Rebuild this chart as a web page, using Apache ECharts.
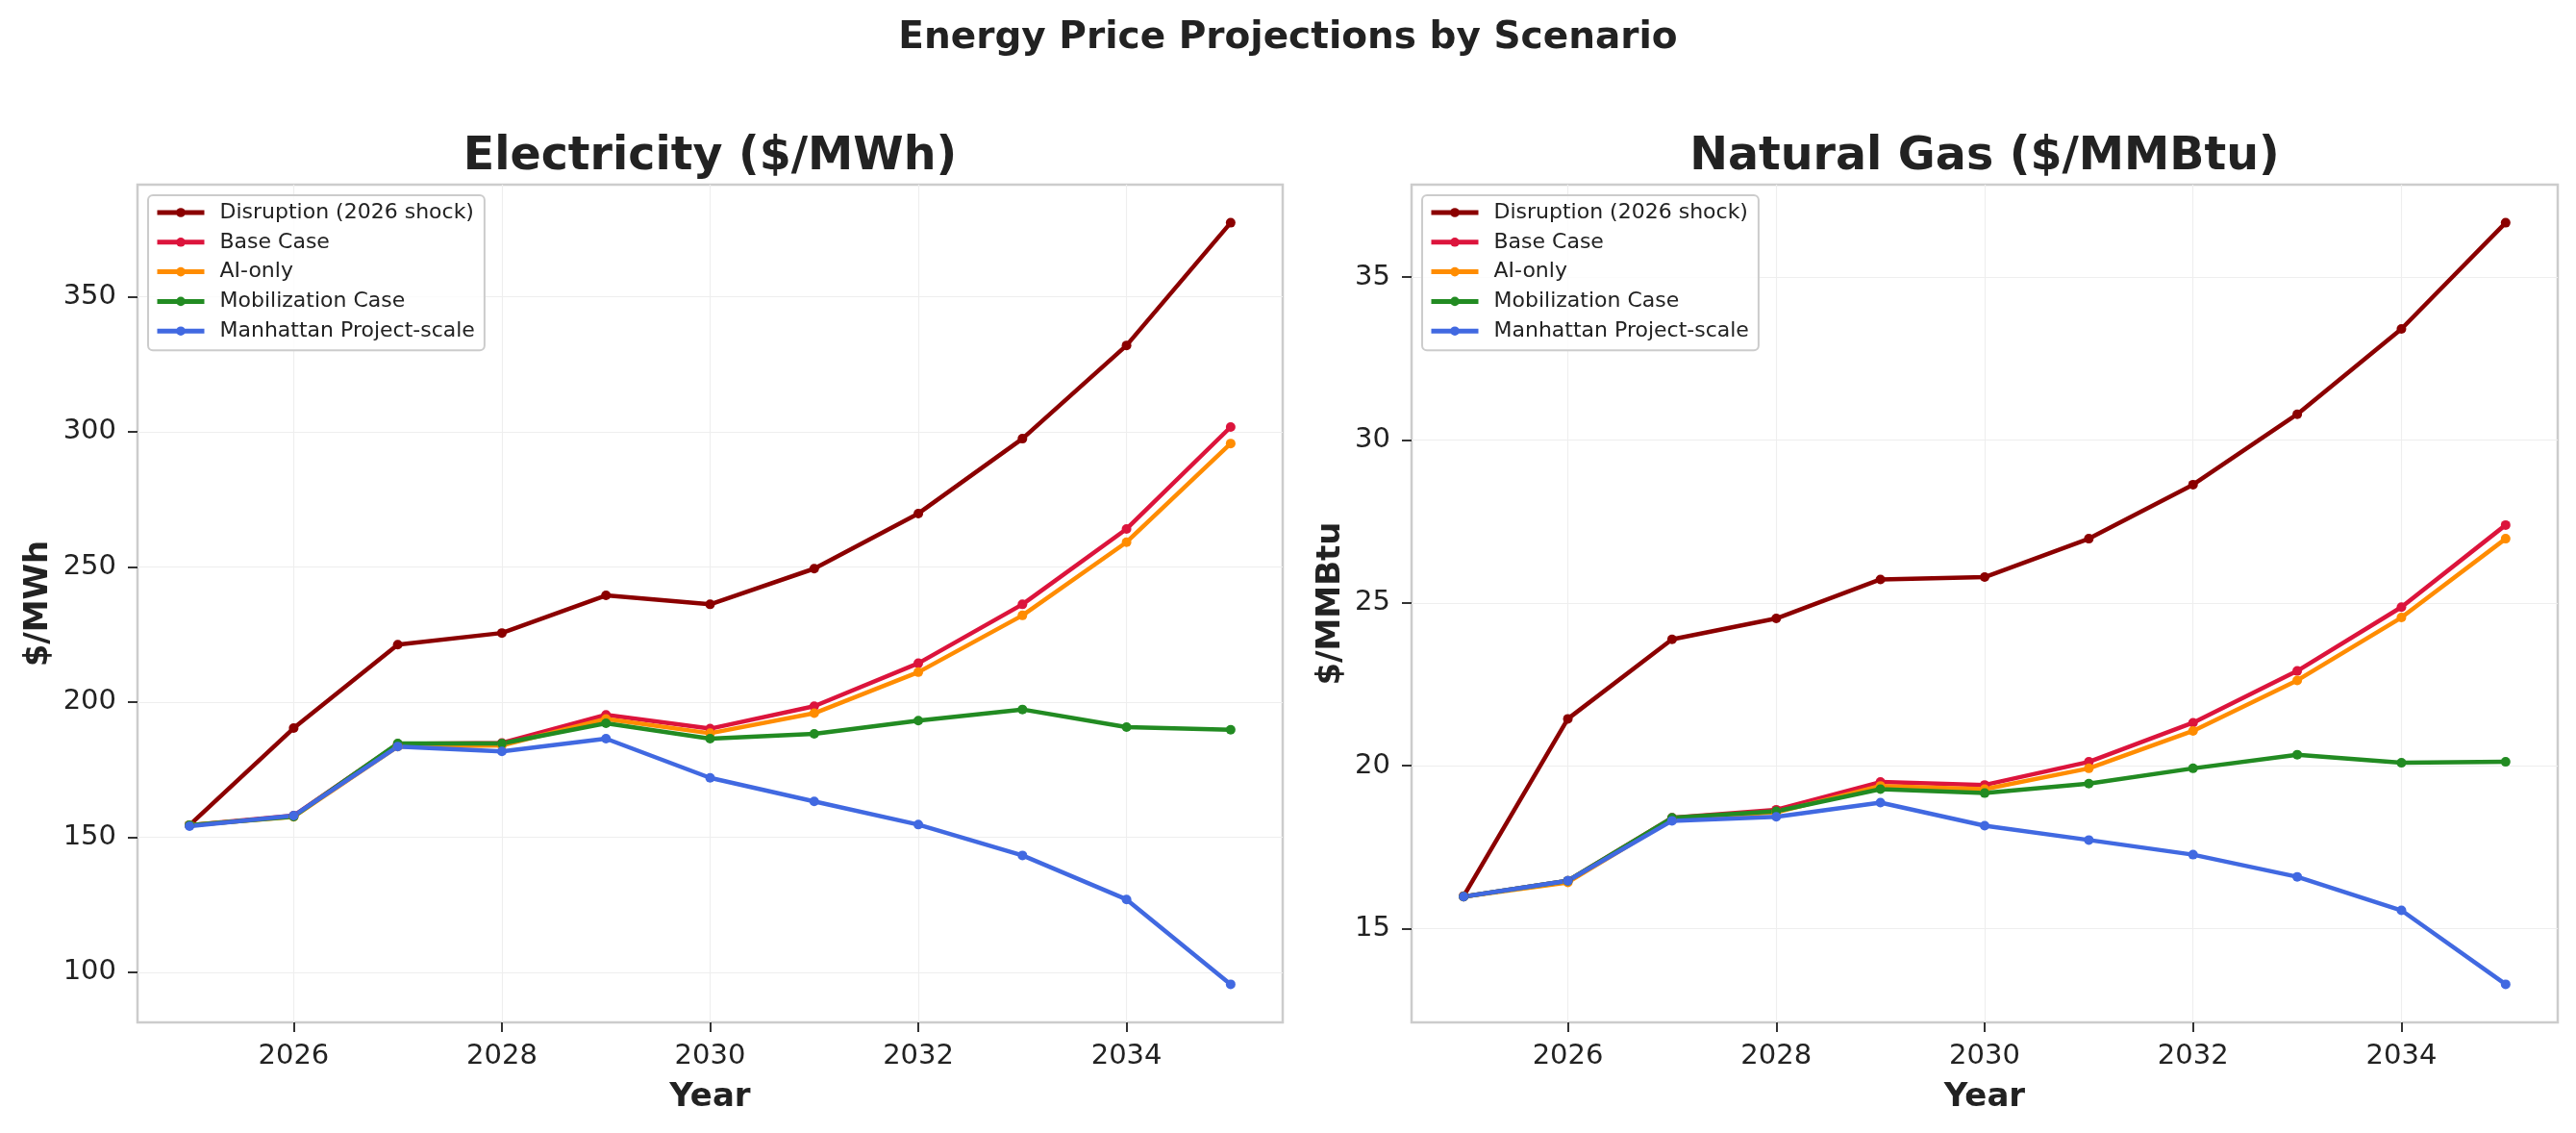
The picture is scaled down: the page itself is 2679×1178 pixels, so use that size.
<!DOCTYPE html>
<html>
<head>
<meta charset="utf-8">
<title>Energy Price Projections by Scenario</title>
<script src="https://cdn.jsdelivr.net/npm/echarts@6/dist/echarts.min.js"></script>
<style>
  html, body { margin: 0; padding: 0; background: #fff; }
  #myChart { width: 2679px; height: 1178px; }
</style>
</head>
<body>
<div id="myChart"></div>
<script>
  var years = [2025, 2026, 2027, 2028, 2029, 2030, 2031, 2032, 2033, 2034, 2035]
  var scenarioNames = ['Disruption (2026 shock)', 'Base Case', 'AI-only', 'Mobilization Case', 'Manhattan Project-scale']
  var scenarioColors = ['#8B0000', '#DC143C', '#FF8C00', '#228B22', '#4169E1']

  // electricity, $/MWh
  var elecDisruption = [154.4, 190.3, 221.2, 225.5, 239.4, 236.1, 249.3, 269.7, 297.4, 331.9, 377.3]
  var elecBase = [154.4, 157.9, 184.4, 184.8, 195.2, 190.1, 198.4, 214.3, 236.1, 264.0, 301.7]
  var elecAI = [154.4, 157.5, 183.5, 183.9, 193.7, 188.4, 195.8, 211.0, 232.0, 259.1, 295.6]
  var elecMobilization = [154.4, 157.6, 184.6, 184.6, 192.1, 186.4, 188.2, 193.1, 197.2, 190.7, 189.7]
  var elecManhattan = [154.0, 157.9, 183.5, 181.7, 186.4, 171.9, 163.2, 154.6, 143.2, 126.9, 95.5]

  // natural gas, $/MMBtu
  var gasDisruption = [16.0, 21.44, 23.88, 24.52, 25.72, 25.79, 26.97, 28.63, 30.79, 33.41, 36.67]
  var gasBase = [15.98, 16.47, 18.40, 18.65, 19.50, 19.41, 20.12, 21.32, 22.91, 24.87, 27.39]
  var gasAI = [15.98, 16.42, 18.36, 18.57, 19.38, 19.28, 19.92, 21.07, 22.62, 24.55, 26.97]
  var gasMobilization = [15.98, 16.47, 18.40, 18.60, 19.28, 19.16, 19.45, 19.92, 20.34, 20.09, 20.12]
  var gasManhattan = [15.98, 16.47, 18.31, 18.43, 18.87, 18.16, 17.72, 17.27, 16.59, 15.56, 13.29]

  var xTicks = [2026, 2028, 2030, 2032, 2034]
  var elecTicks = [100, 150, 200, 250, 300, 350]
  var gasTicks = [15, 20, 25, 30, 35]

  var elecSeries = [elecDisruption, elecBase, elecAI, elecMobilization, elecManhattan]
  var gasSeries = [gasDisruption, gasBase, gasAI, gasMobilization, gasManhattan]

  var FONT = 'DejaVu Sans'
  var TEXT = '#222'

  // matplotlib style 5% margins
  function padRange (arrs) {
    var all = [].concat.apply([], arrs)
    var lo = Math.min.apply(null, all)
    var hi = Math.max.apply(null, all)
    var p = (hi - lo) * 0.05
    return [lo - p, hi + p]
  }
  var elecRange = padRange(elecSeries)
  var gasRange = padRange(gasSeries)

  function xAxisFor (idx) {
    return {
      type: 'value',
      gridIndex: idx,
      min: years[0] - 0.5,
      max: years[years.length - 1] + 0.5,
      name: 'Year',
      nameLocation: 'middle',
      nameGap: 61,
      nameTextStyle: { fontFamily: FONT, fontSize: 34, fontWeight: 'bold', color: TEXT },
      axisLine: { show: false },
      axisTick: { show: true, length: 10, lineStyle: { color: '#333', width: 2 }, customValues: xTicks },
      axisLabel: { fontFamily: FONT, fontSize: 29, color: TEXT, margin: 21, customValues: xTicks, formatter: function (v) { return String(v) } },
      splitLine: { show: true, lineStyle: { color: '#eeeeee', width: 1.2 } }
    }
  }

  function yAxisFor (idx, range, ticks, label, gap) {
    return {
      type: 'value',
      gridIndex: idx,
      min: range[0],
      max: range[1],
      name: label,
      nameLocation: 'middle',
      nameGap: gap,
      nameRotate: 90,
      nameTextStyle: { fontFamily: FONT, fontSize: 34, fontWeight: 'bold', color: TEXT },
      axisLine: { show: false },
      axisTick: { show: true, length: 10, lineStyle: { color: '#333', width: 2 }, customValues: ticks },
      axisLabel: { fontFamily: FONT, fontSize: 29, color: TEXT, margin: 22, customValues: ticks },
      splitLine: { show: true, lineStyle: { color: '#eeeeee', width: 1.2 } }
    }
  }

  function buildSeries (arrs, idx) {
    return arrs.map(function (vals, i) {
      return {
        name: scenarioNames[i],
        type: 'line',
        xAxisIndex: idx,
        yAxisIndex: idx,
        data: years.map(function (y, k) { return [y, vals[k]] }),
        symbol: 'circle',
        symbolSize: 10,
        color: scenarioColors[i],
        lineStyle: { width: 4.5, color: scenarioColors[i] },
        itemStyle: { color: scenarioColors[i] },
        emphasis: { disabled: true },
        animation: false
      }
    })
  }

  function legendAt (left) {
    return {
      orient: 'vertical',
      left: left,
      top: 203,
      data: scenarioNames,
      itemWidth: 49,
      itemHeight: 12,
      itemGap: 8.8,
      padding: [7, 10, 9, 7],
      backgroundColor: 'rgba(255,255,255,0.8)',
      borderColor: '#cccccc',
      borderWidth: 2,
      borderRadius: 5,
      selectedMode: false,
      lineStyle: { width: 5 },
      textStyle: { fontFamily: FONT, fontSize: 22, color: TEXT, lineHeight: 22, padding: [0, 0, 0, 11] }
    }
  }

  var option = {
    backgroundColor: '#fff',
    animation: false,
    title: [
      { text: 'Energy Price Projections by Scenario', left: 1339.5, top: 20, textAlign: 'center', padding: 0,
        textStyle: { fontFamily: FONT, fontSize: 39, fontWeight: 'bold', color: TEXT, lineHeight: 40 } },
      { text: 'Electricity ($/MWh)', left: 738.5, top: 139, textAlign: 'center', padding: 0,
        textStyle: { fontFamily: FONT, fontSize: 47.5, fontWeight: 'bold', color: TEXT, lineHeight: 50 } },
      { text: 'Natural Gas ($/MMBtu)', left: 2064, top: 139, textAlign: 'center', padding: 0,
        textStyle: { fontFamily: FONT, fontSize: 47.5, fontWeight: 'bold', color: TEXT, lineHeight: 50 } }
    ],
    legend: [legendAt(154), legendAt(1479)],
    grid: [
      { left: 143, right: 1345, top: 192, bottom: 115, show: true, borderColor: '#cccccc', borderWidth: 2.5, backgroundColor: '#fff' },
      { left: 1468, right: 19, top: 192, bottom: 115, show: true, borderColor: '#cccccc', borderWidth: 2.5, backgroundColor: '#fff' }
    ],
    xAxis: [xAxisFor(0), xAxisFor(1)],
    yAxis: [
      yAxisFor(0, elecRange, elecTicks, '$/MWh', 86),
      yAxisFor(1, gasRange, gasTicks, '$/MMBtu', 67)
    ],
    series: buildSeries(elecSeries, 0).concat(buildSeries(gasSeries, 1))
  }

  var myChart = echarts.init(document.getElementById('myChart'))
  myChart.setOption(option)
</script>
</body>
</html>
